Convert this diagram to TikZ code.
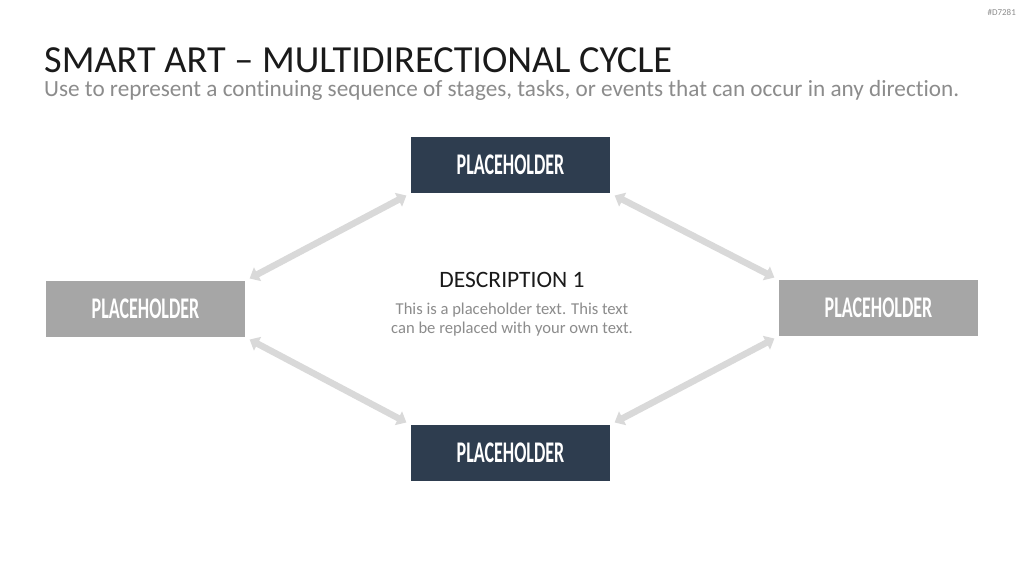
\documentclass[tikz,border=0pt]{standalone}
\usepackage{fontspec}
\setmainfont[Ligatures=NoCommon]{Carlito}
\newfontfamily\phfont[FakeStretch=0.6]{Carlito}
\usepackage{tikz}
\usetikzlibrary{arrows.meta,positioning}
\definecolor{navybox}{HTML}{2E3D4F}
\definecolor{greybox}{HTML}{A6A6A6}
\definecolor{cyclearrow}{HTML}{D9D9D9}
\definecolor{subgrey}{HTML}{8C8C8C}
\definecolor{titleblack}{HTML}{1A1A1A}

\begin{document}
\begin{tikzpicture}[
  x=1pt, y=-1pt,
  stage/.style={minimum width=199pt, minimum height=56pt, inner sep=0pt,
    text=white, font=\phfont\bfseries\fontsize{30}{30}\selectfont},
  cyc/.style={cyclearrow, line width=6.5pt,
    {Triangle[width=15pt,length=9pt]}-{Triangle[width=15pt,length=9pt]},
    shorten <=5pt, shorten >=5pt}
]
\useasboundingbox[fill=white] (0,0) rectangle (1024,576);

\node[anchor=north east, text=subgrey, font=\fontsize{9}{9}\selectfont, inner sep=0pt] (tag) at (1016,9) {\#D7281};
\node[anchor=base west, text=titleblack, font=\fontsize{38.3}{38}\selectfont, inner sep=0pt] (title) at (44,72) {SMART ART -- MULTIDIRECTIONAL CYCLE};
\node[anchor=base west, text=subgrey, font=\fontsize{23.2}{23}\selectfont, inner sep=0pt] (subtitle) at (44,96) {Use to represent a continuing sequence of stages, tasks, or events that can occur in any direction.};

\node[stage, fill=navybox] (top) at (510.5,165) {PLACEHOLDER};
\node[stage, fill=navybox] (bottom) at (510.5,453) {PLACEHOLDER};
\node[stage, fill=greybox] (left) at (145.5,309) {PLACEHOLDER};
\node[stage, fill=greybox] (right) at (878.5,308) {PLACEHOLDER};

\node[font=\fontsize{23.5}{23}\selectfont, text=titleblack, inner sep=0pt] (desc) at (512,280) {DESCRIPTION 1};
\node[below=15pt of desc, align=center, text=subgrey, font=\fontsize{16.6}{19}\selectfont, inner sep=0pt] (desctext)
  {This is a placeholder text. This text\\can be replaced with your own text.};

% cycle arrows
\draw[cyc] (left.north east) -- (top.south west);
\draw[cyc] (top.south east) -- (right.north west);
\draw[cyc] (left.south east) -- (bottom.north west);
\draw[cyc] (bottom.north east) -- (right.south west);
\end{tikzpicture}
\end{document}
